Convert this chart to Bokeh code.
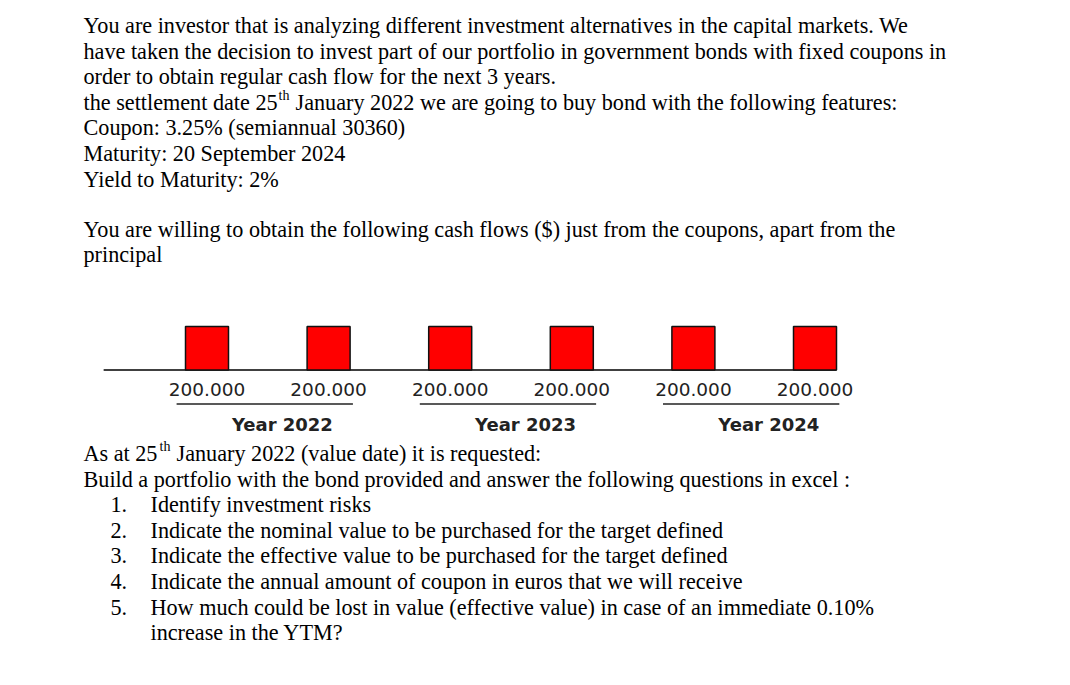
from bokeh.plotting import figure
from bokeh.models import Range1d
from bokeh.core.properties import value
from bokeh.embed import file_html
from bokeh.resources import INLINE

# ---------------- data ----------------
periods = [0, 1, 2, 3, 4, 5]  # semiannual coupon payments (index)
cash_flows = [200000, 200000, 200000, 200000, 200000, 200000]
cash_labels = ["200.000", "200.000", "200.000", "200.000", "200.000", "200.000"]
years = ["Year 2022", "Year 2023", "Year 2024"]

intro_lines = [
    "You are investor that is analyzing different investment alternatives in the capital markets. We",
    "have taken the decision to invest part of our portfolio in government bonds with fixed coupons in",
    "order to obtain regular cash flow for the next 3 years.",
]
settle_parts = ["the settlement date 25", "th", "January 2022 we are going to buy bond with the following features:"]
feature_lines = [
    "Coupon: 3.25% (semiannual 30360)",
    "Maturity: 20 September 2024",
    "Yield to Maturity: 2%",
]
willing_lines = [
    "You are willing to obtain the following cash flows ($) just from the coupons, apart from the",
    "principal",
]
asat_parts = ["As at 25", "th", "January 2022 (value date) it is requested:"]
build_line = "Build a portfolio with the bond provided and answer the following questions in excel :"
item_numbers = ["1.", "2.", "3.", "4.", "5."]
item_texts = [
    "Identify investment risks",
    "Indicate the nominal value to be purchased for the target defined",
    "Indicate the effective value to be purchased for the target defined",
    "Indicate the annual amount of coupon in euros that we will receive",
    "How much could be lost in value (effective value) in case of an immediate 0.10%",
]
item5_cont = "increase in the YTM?"

# ---------------- layout ----------------
W, H = 1054, 669
p = figure(width=W, height=H, x_range=Range1d(0, W), y_range=Range1d(H, 0),
           output_backend="svg", toolbar_location=None, min_border=0,
           x_axis_type=None, y_axis_type=None, outline_line_color=None)
p.grid.visible = False
p.background_fill_color = "white"

SERIF = value("Liberation Serif")
FS = "22.2px"
SUP = "14px"
LX = 83
LH = 25.6
DY = -8   # baseline correction


def txt(xs, ys, texts, size=FS):
    p.text(x=xs, y=[v + DY for v in ys], text=texts, text_font=SERIF, text_font_size=size,
           text_baseline="alphabetic", text_align="left", text_color="black")


# top paragraph
y0 = 33
txt([LX] * 3, [y0 + i * LH for i in range(3)], intro_lines)
y4 = y0 + 3 * LH
txt([LX], [y4], [settle_parts[0]])
txt([278], [y4 - 7], [settle_parts[1]], size=SUP)
txt([295], [y4], [settle_parts[2]])
txt([LX] * 3, [y4 + (i + 1) * LH for i in range(3)], feature_lines)
txt([LX, LX], [237, 262], willing_lines)

# ---------------- cash-flow chart ----------------
BAR_X0 = 206.5      # screen x of first period
DX = 121.6          # pixels per period
BASE_Y = 369.5      # screen y of zero
BAR_PX = 43.5       # pixel height of a 200000 bar
a = -BAR_X0 / DX
p.extra_x_ranges = {"t": Range1d(a, a + W / DX)}
vpp = 200000 / BAR_PX
top_v = BASE_Y * vpp
p.extra_y_ranges = {"cf": Range1d(top_v - H * vpp, top_v)}

bw = 43 / DX
p.line(x=[periods[0] - 0.85, periods[-1] + bw / 2], y=[0, 0], x_range_name="t", y_range_name="cf",
       line_color="black", line_width=1.5)
p.vbar(x=periods, top=cash_flows, bottom=0, width=bw, x_range_name="t", y_range_name="cf",
       fill_color="#FF0000", line_color="#111111", line_width=1.5)

SANS = value("DejaVu Sans")
p.text(x=periods, y=[389] * len(periods), text=cash_labels, x_range_name="t",
       text_font=SANS, text_font_size="18.5px", text_align="center", text_baseline="middle",
       text_color="#222222")

pair_first = periods[0::2]
pair_second = periods[1::2]
p.segment(x0=[q - 0.25 for q in pair_first], x1=[q + 0.2 for q in pair_second],
          y0=[403.5] * 3, y1=[403.5] * 3, x_range_name="t", line_color="#222222", line_width=1.5)
p.text(x=[(q1 + q2) / 2 + 0.12 for q1, q2 in zip(pair_first, pair_second)], y=[424] * 3, text=years,
       x_range_name="t", text_font=SANS, text_font_size="18px", text_font_style="bold",
       text_align="center", text_baseline="middle", text_color="#222222")

# ---------------- bottom paragraph ----------------
yb = 461
txt([LX], [yb], [asat_parts[0]])
txt([159], [yb - 7], [asat_parts[1]], size=SUP)
txt([176], [yb], [asat_parts[2]])
txt([LX], [yb + LH], [build_line])
NX, TX = 110, 150
txt([NX] * 5, [yb + (i + 2) * LH for i in range(5)], item_numbers)
txt([TX] * 5, [yb + (i + 2) * LH for i in range(5)], item_texts)
txt([TX], [yb + 7 * LH], [item5_cont])

open("out.html", "w").write(file_html(p, INLINE))
